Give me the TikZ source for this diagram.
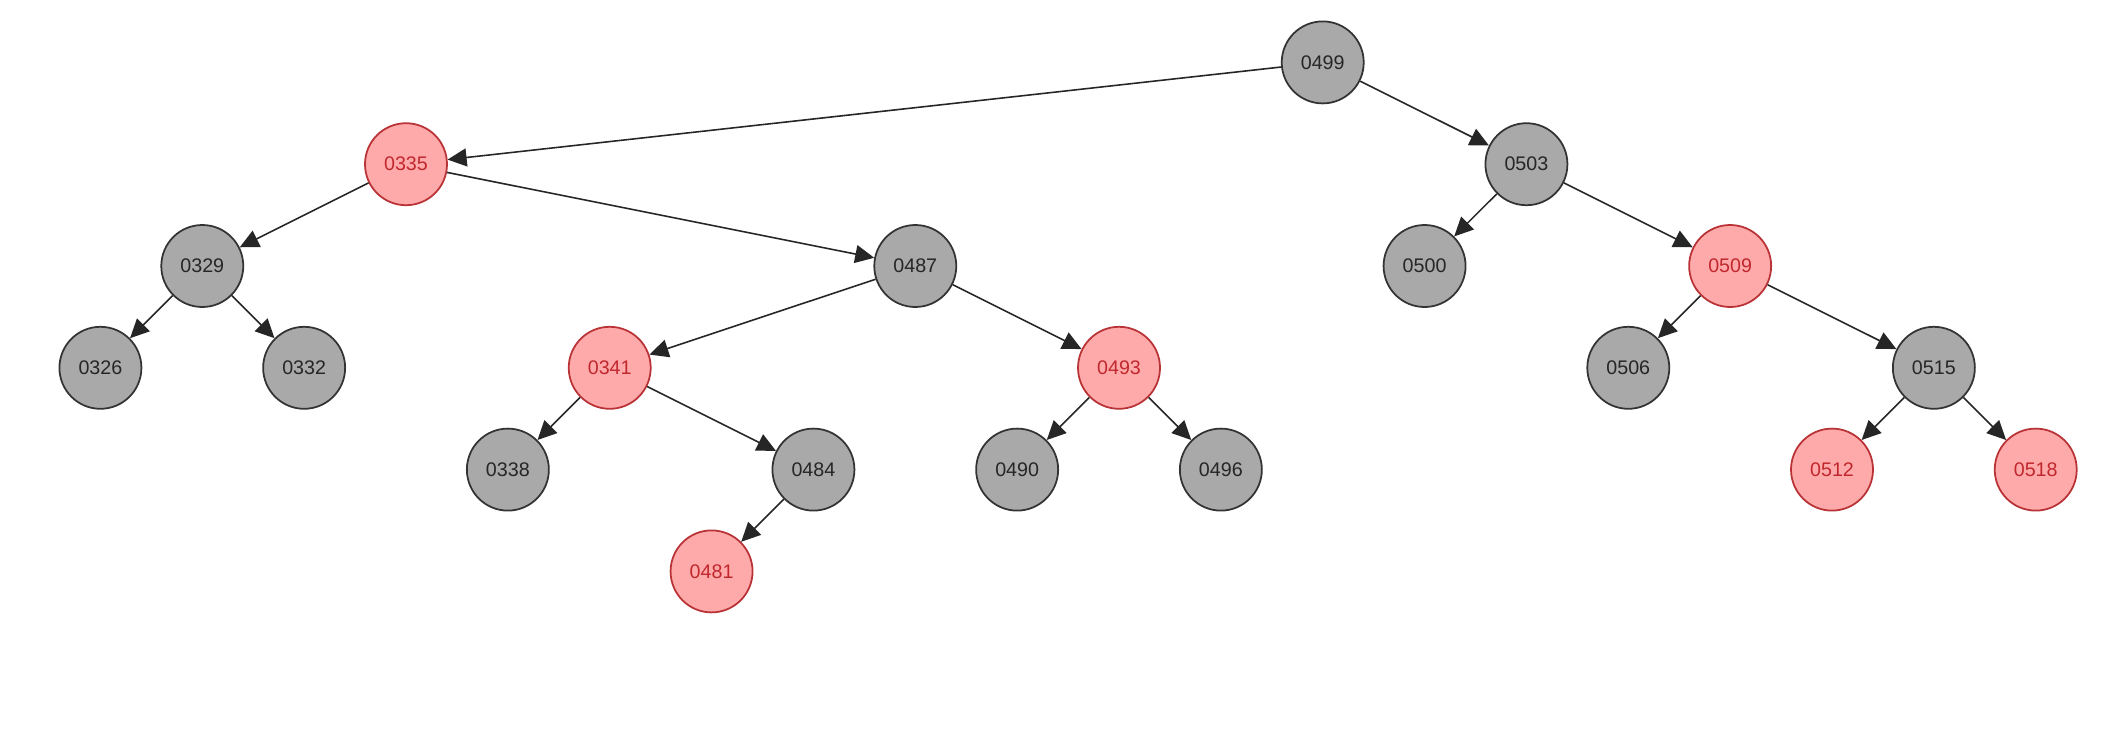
\documentclass[tikz,border=0pt]{standalone}
\usepackage{fontspec}
\setmainfont{Liberation Sans}
\usepackage{xcolor}
\usepackage{tikz}
\usetikzlibrary{arrows.meta}
\definecolor{nodegray}{HTML}{A9A9A9}
\definecolor{nodeink}{HTML}{333333}
\definecolor{redfill}{HTML}{FFAAAA}
\definecolor{redline}{HTML}{B83236}
\definecolor{redtext}{HTML}{C0282E}

\begin{document}
\begin{tikzpicture}[x=1.0186cm,y=1.018cm,
    every node/.style={font=\fontsize{5.6}{7}\selectfont},
    blacknode/.style={circle,draw=nodeink,line width=0.5pt,fill=nodegray,text=black!85,minimum size=0.82cm,inner sep=0pt},
    rednode/.style={circle,draw=redline,line width=0.5pt,fill=redfill,text=redtext,minimum size=0.82cm,inner sep=0pt},
    edge/.style={-{Triangle[length=0.19cm,width=0.18cm]},line width=0.45pt,black!85}]
        \useasboundingbox (-0.986,0.613) rectangle (19.906,-6.597);
        % level 0 and 1
        \node[blacknode] (n0499) at (12,0) {0499};
        \node[rednode] (n0335) at (3,-1) {0335};
        \node[blacknode] (n0503) at (14,-1) {0503};
        % level 2
        \node[blacknode] (n0329) at (1,-2) {0329};
        \node[blacknode] (n0487) at (8,-2) {0487};
        \node[blacknode] (n0500) at (13,-2) {0500};
        \node[rednode] (n0509) at (16,-2) {0509};
        % level 3
        \node[blacknode] (n0326) at (0,-3) {0326};
        \node[blacknode] (n0332) at (2,-3) {0332};
        \node[rednode] (n0341) at (5,-3) {0341};
        \node[rednode] (n0493) at (10,-3) {0493};
        \node[blacknode] (n0506) at (15,-3) {0506};
        \node[blacknode] (n0515) at (18,-3) {0515};
        % level 4
        \node[blacknode] (n0338) at (4,-4) {0338};
        \node[blacknode] (n0484) at (7,-4) {0484};
        \node[blacknode] (n0490) at (9,-4) {0490};
        \node[blacknode] (n0496) at (11,-4) {0496};
        \node[rednode] (n0512) at (17,-4) {0512};
        \node[rednode] (n0518) at (19,-4) {0518};
        % level 5
        \node[rednode] (n0481) at (6,-5) {0481};

        \draw[edge] (n0499) -- (n0335);
        \draw[edge] (n0499) -- (n0503);
        \draw[edge] (n0335) -- (n0329);
        \draw[edge] (n0335) -- (n0487);
        \draw[edge] (n0503) -- (n0500);
        \draw[edge] (n0503) -- (n0509);
        \draw[edge] (n0329) -- (n0326);
        \draw[edge] (n0329) -- (n0332);
        \draw[edge] (n0487) -- (n0341);
        \draw[edge] (n0487) -- (n0493);
        \draw[edge] (n0509) -- (n0506);
        \draw[edge] (n0509) -- (n0515);
        \draw[edge] (n0341) -- (n0338);
        \draw[edge] (n0341) -- (n0484);
        \draw[edge] (n0493) -- (n0490);
        \draw[edge] (n0493) -- (n0496);
        \draw[edge] (n0515) -- (n0512);
        \draw[edge] (n0515) -- (n0518);
        \draw[edge] (n0484) -- (n0481);
      \end{tikzpicture}
\end{document}
